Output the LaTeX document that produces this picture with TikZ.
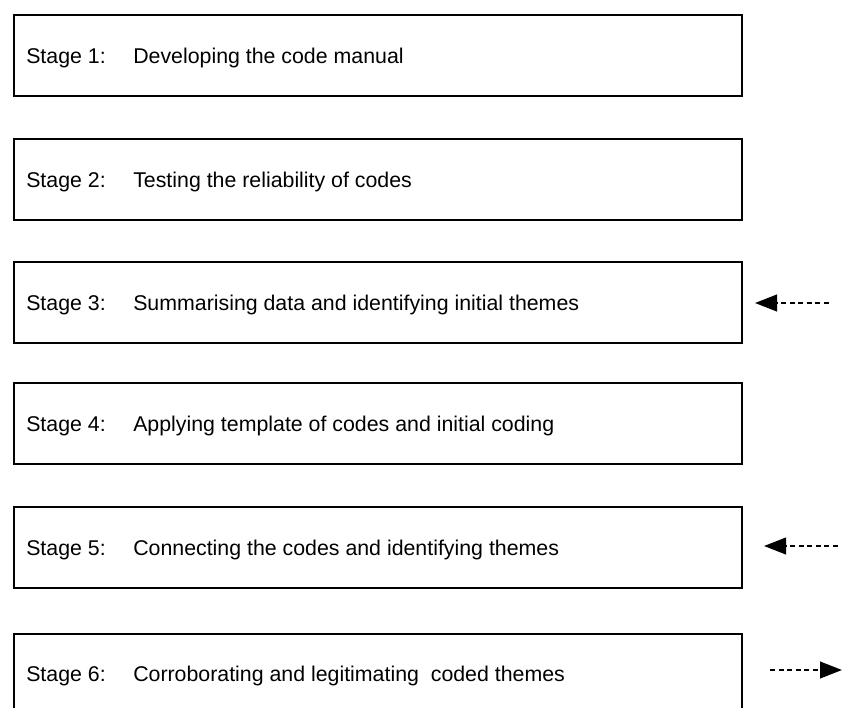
\documentclass[tikz,border=0pt]{standalone}
\usepackage{fontspec}
\setmainfont{Liberation Sans}
\usetikzlibrary{arrows.meta}
\begin{document}
\begin{tikzpicture}[x=0.75pt,y=-0.75pt,
  stagebox/.style={draw=black,line width=1.4pt,minimum width=546pt,minimum height=60.75pt,inner sep=0pt,anchor=north west},
  lbl/.style={anchor=base west,inner sep=0pt,font=\fontsize{16}{19}\selectfont},
  flow/.style={line width=1.5pt,dash pattern=on 3.8pt off 2.6pt,-{Triangle[length=16.5pt,width=12.5pt]}}]
\useasboundingbox (0,0) rectangle (864,707);
\fill[white] (0,0) rectangle (864,707);
% boxes
\node[stagebox] (b1) at (13,14) {};
\node[stagebox] (b2) at (13,138) {};
\node[stagebox] (b3) at (13,261) {};
\node[stagebox] (b4) at (13,382) {};
\node[stagebox] (b5) at (13,506) {};
\node[stagebox] (b6) at (13,633) {};
% labels
\node[lbl] (n1) at (26,63) {Stage 1:};
\node[lbl] (t1) at (133,63) {Developing the code manual};
\node[lbl] (n2) at (26,187) {Stage 2:};
\node[lbl] (t2) at (133,187) {Testing the reliability of codes};
\node[lbl] (n3) at (26,310) {Stage 3:};
\node[lbl] (t3) at (133,310) {Summarising data and identifying initial themes};
\node[lbl] (n4) at (26,431) {Stage 4:};
\node[lbl] (t4) at (133,431) {Applying template of codes and initial coding};
\node[lbl] (n5) at (26,555) {Stage 5:};
\node[lbl] (t5) at (133,555) {Connecting the codes and identifying themes};
\node[lbl] (n6) at (26,681) {Stage 6:};
\node[lbl] (t6) at (133,681) {Corroborating and legitimating\ \ coded themes};
% arrows
\coordinate (a3s) at (829,303);
\coordinate (a3e) at (755,303);
\coordinate (a5s) at (838,546);
\coordinate (a5e) at (764,546);
\coordinate (a6s) at (770,670);
\coordinate (a6e) at (842,670);
\draw[flow] (a3s) -- (a3e);
\draw[flow] (a5s) -- (a5e);
\draw[flow] (a6s) -- (a6e);
\end{tikzpicture}
\end{document}
